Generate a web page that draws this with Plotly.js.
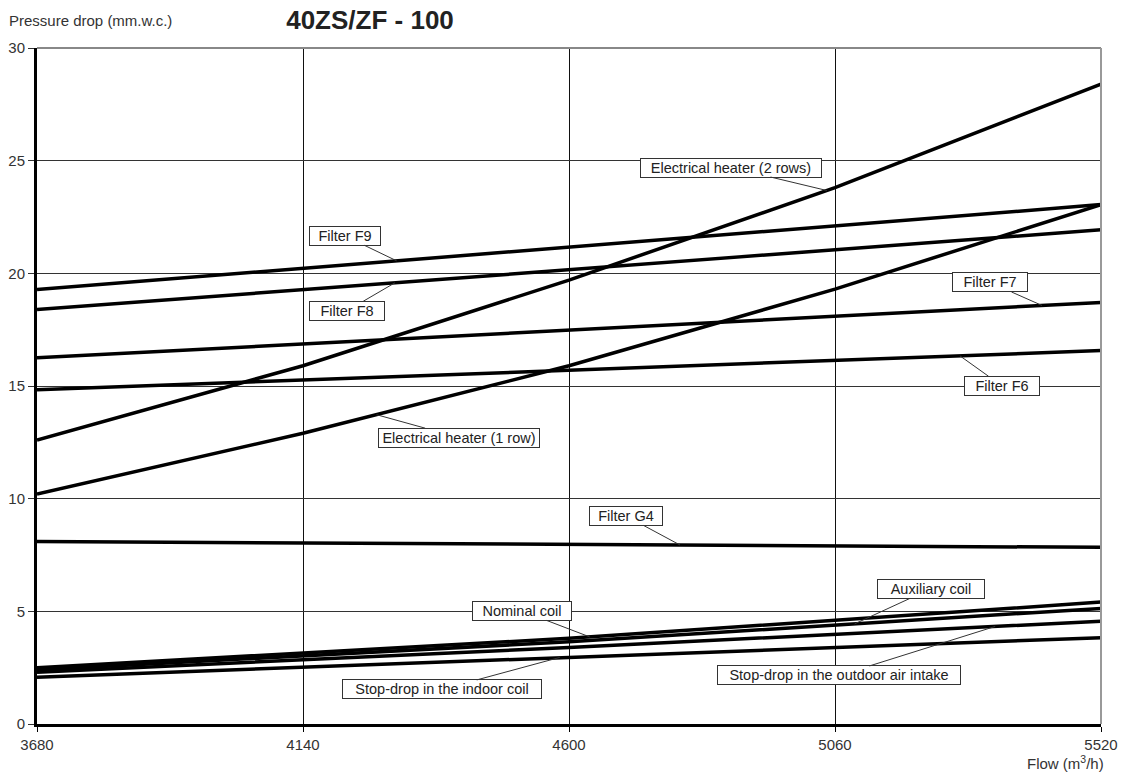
<!DOCTYPE html>
<html>
<head>
<meta charset="utf-8">
<script src="https://cdn.plot.ly/plotly-3.0.1.min.js"></script>
<style>html,body{margin:0;padding:0;background:#fff;}#chart{width:1124px;height:776px;}</style>
</head>
<body>
<div id="chart"></div>
<script>
// Flow values (m3/h)
const flowEnds = [3680, 5520];
const flowGrid = [3680, 4140, 4600, 5060, 5520];
const flowCoil = [3680, 4600, 5520];
const xTicks = [3680, 4140, 4600, 5060, 5520];
const yTicks = [0, 5, 10, 15, 20, 25, 30];

// Pressure drop (mm.w.c.)
const heater2Rows = [12.6, 15.9, 19.7, 23.8, 28.4];
const heater1Row = [10.2, 12.9, 15.9, 19.3, 23.05];
const filterF9 = [19.28, 23.05];
const filterF8 = [18.39, 21.93];
const filterF7 = [16.25, 18.71];
const filterF6 = [14.83, 16.57];
const filterG4 = [8.10, 7.84];
const nominalCoil = [2.50, 3.80, 5.41];
const auxiliaryCoil = [2.40, 3.65, 5.13];
const stopDropOutdoor = [2.30, 3.40, 4.56];
const stopDropIndoor = [2.08, 2.97, 3.83];

const series = [
  {name: 'Electrical heater (2 rows)', x: flowGrid, y: heater2Rows, at: 5046, ax: -96, ay: -23, w: 182},
  {name: 'Filter F9', x: flowEnds, y: filterF9, at: 4302, ax: -52, ay: -25, w: 72},
  {name: 'Filter F8', x: flowEnds, y: filterF8, at: 4299, ax: -48, ay: 28, w: 76},
  {name: 'Filter F7', x: flowEnds, y: filterF7, at: 5418, ax: -52, ay: -23, w: 76},
  {name: 'Filter F6', x: flowEnds, y: filterF6, at: 5276, ax: 42, ay: 30, w: 76},
  {name: 'Electrical heater (1 row)', x: flowGrid, y: heater1Row, at: 4267, ax: 83, ay: 23, w: 162},
  {name: 'Filter G4', x: flowEnds, y: filterG4, at: 4792, ax: -54, ay: -29, w: 74},
  {name: 'Nominal coil', x: flowCoil, y: nominalCoil, at: 4636, ax: -68, ay: -26, w: 100},
  {name: 'Auxiliary coil', x: flowCoil, y: auxiliaryCoil, at: 5094, ax: 76, ay: -35, w: 108},
  {name: 'Stop-drop in the outdoor air intake', x: flowCoil, y: stopDropOutdoor, at: 5337, ax: -156, ay: 49, w: 244},
  {name: 'Stop-drop in the indoor coil', x: flowCoil, y: stopDropIndoor, at: 4584, ax: -118, ay: 32, w: 200}
];

function interp(xs, ys, x) {
  for (let i = 0; i < xs.length - 1; i++) {
    if (x >= xs[i] && x <= xs[i + 1]) {
      const t = (x - xs[i]) / (xs[i + 1] - xs[i]);
      return ys[i] + t * (ys[i + 1] - ys[i]);
    }
  }
  return ys[ys.length - 1];
}

const FONT = 'Liberation Sans, Arial, sans-serif';

const traces = series.map(s => ({
  type: 'scatter', mode: 'lines', name: s.name, x: s.x, y: s.y,
  line: {color: '#000', width: 3.5}, showlegend: false, hoverinfo: 'skip'
}));

const annotations = series.map(s => ({
  x: s.at, y: interp(s.x, s.y, s.at), xref: 'x', yref: 'y',
  text: s.name, showarrow: true, arrowhead: 0, arrowwidth: 1, arrowcolor: '#333',
  ax: s.ax, ay: s.ay, standoff: 0,
  font: {family: FONT, size: 14.5, color: '#222'},
  bgcolor: '#fff', bordercolor: '#333', borderwidth: 1, borderpad: 1,
  width: s.w - 4, height: 16
}));

annotations.push({
  xref: 'paper', yref: 'paper', x: -0.0282, y: 1.041, xanchor: 'left', yanchor: 'middle',
  text: 'Pressure drop (mm.w.c.)', showarrow: false,
  font: {family: FONT, size: 15, color: '#333'}
});
annotations.push({
  xref: 'paper', yref: 'paper', x: 1.005, y: -0.057, xanchor: 'right', yanchor: 'middle',
  text: 'Flow (m<sup>3</sup>/h)', showarrow: false,
  font: {family: FONT, size: 15, color: '#333'}
});

const layout = {
  width: 1124, height: 776,
  margin: {l: 37, r: 23, t: 48, b: 52},
  paper_bgcolor: '#fff', plot_bgcolor: '#fff',
  title: {text: '<b>40ZS/ZF - 100</b>', x: 370 / 1124, xanchor: 'center', xref: 'container',
          y: 1 - 20 / 776, yanchor: 'middle', yref: 'container',
          font: {family: FONT, size: 26, color: '#222'}},
  xaxis: {
    range: [3680, 5520], tickvals: xTicks, ticktext: xTicks.map(String),
    showgrid: true, gridcolor: '#111', gridwidth: 1,
    showline: true, linecolor: '#000', linewidth: 3,
    ticks: 'outside', ticklen: 5, tickcolor: '#000',
    tickfont: {family: FONT, size: 15, color: '#333'}, zeroline: false, fixedrange: true
  },
  yaxis: {
    range: [0, 30], tickvals: yTicks, ticktext: yTicks.map(String),
    showgrid: true, gridcolor: '#333', gridwidth: 1,
    showline: true, linecolor: '#000', linewidth: 3,
    ticks: 'outside', ticklen: 6, tickcolor: '#333',
    tickfont: {family: FONT, size: 15, color: '#333'}, zeroline: false, fixedrange: true
  },
  shapes: [
    {type: 'line', xref: 'paper', yref: 'paper', x0: 0, x1: 1, y0: 1, y1: 1, line: {color: '#888', width: 2}},
    {type: 'line', xref: 'paper', yref: 'paper', x0: 1, x1: 1, y0: 0, y1: 1, line: {color: '#999', width: 2}}
  ],
  annotations: annotations
};

Plotly.newPlot('chart', traces, layout, {displayModeBar: false, staticPlot: true});
</script>
</body>
</html>
